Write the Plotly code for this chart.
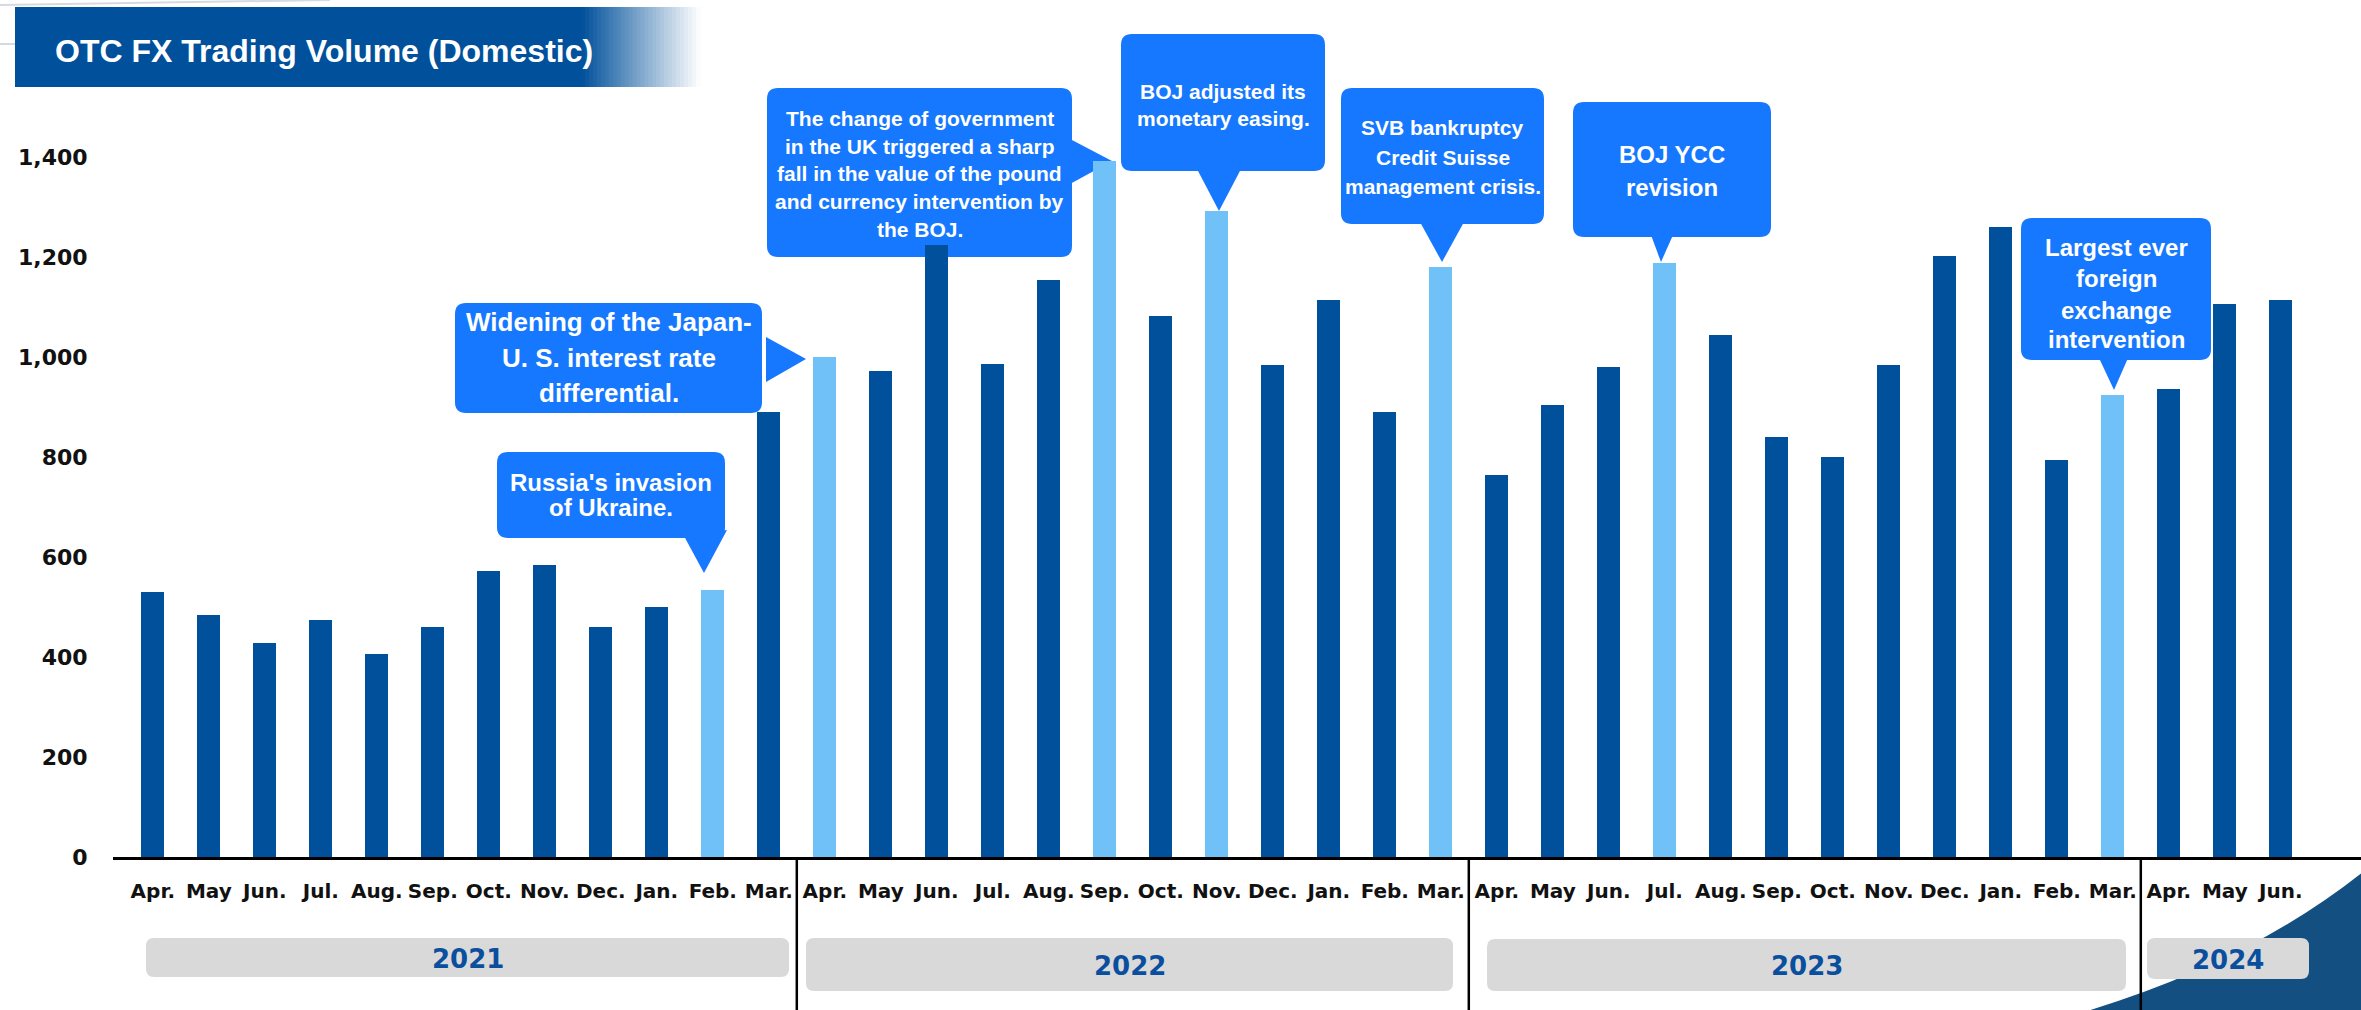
import plotly.graph_objects as go

# ---------------- data ----------------
months = ["Apr.", "May", "Jun.", "Jul.", "Aug.", "Sep.", "Oct.", "Nov.", "Dec.", "Jan.", "Feb.", "Mar.",
          "Apr.", "May", "Jun.", "Jul.", "Aug.", "Sep.", "Oct.", "Nov.", "Dec.", "Jan.", "Feb.", "Mar.",
          "Apr.", "May", "Jun.", "Jul.", "Aug.", "Sep.", "Oct.", "Nov.", "Dec.", "Jan.", "Feb.", "Mar.",
          "Apr.", "May", "Jun."]
volume = [530, 485, 428, 474, 406, 460, 573, 585, 460, 500, 535, 890,
          1000, 973, 1225, 987, 1155, 1393, 1083, 1292, 985, 1115, 890, 1180,
          765, 905, 980, 1189, 1045, 840, 800, 985, 1203, 1260, 795, 925,
          936, 1107, 1114]
highlighted = [10, 12, 17, 19, 23, 27, 35]
years = ["2021", "2022", "2023", "2024"]
year_breaks = [11.5, 23.5, 35.5]
y_ticks = [0, 200, 400, 600, 800, 1000, 1200, 1400]
title = "OTC FX Trading Volume (Domestic)"

DARK = "#00509B"
LIGHT = "#71C1F9"
CALLOUT = "#1677FF"

# ---------------- geometry helpers (pixel -> paper) ----------------
W, H = 2361, 1010
PL, PR, PT, PB = 113, 2361, 7, 857


def px(x):
    return (x - PL) / (PR - PL)


def py(y):
    return (PB - y) / (PB - PT)


def pt(x, y):
    return f"{px(x):.6f},{py(y):.6f}"


def rrect(x0, y0, x1, y1, r):
    return (f"M {pt(x0 + r, y0)} L {pt(x1 - r, y0)} Q {pt(x1, y0)} {pt(x1, y0 + r)} "
            f"L {pt(x1, y1 - r)} Q {pt(x1, y1)} {pt(x1 - r, y1)} "
            f"L {pt(x0 + r, y1)} Q {pt(x0, y1)} {pt(x0, y1 - r)} "
            f"L {pt(x0, y0 + r)} Q {pt(x0, y0)} {pt(x0 + r, y0)} Z")


def tri(a, b, c):
    return f"M {pt(*a)} L {pt(*b)} L {pt(*c)} Z"


colors = [LIGHT if i in highlighted else DARK for i in range(len(volume))]

fig = go.Figure()
fig.add_trace(go.Bar(
    x=list(range(len(volume))), y=volume, width=0.41,
    marker=dict(color=colors, line=dict(width=0)),
    hoverinfo="skip",
))

shapes = []
annotations = []

# ---- title banner ----
shapes.append(dict(type="rect", xref="paper", yref="paper", layer="below",
                   x0=px(15), x1=px(582), y0=py(87), y1=py(7),
                   fillcolor=DARK, line=dict(width=0)))
steps = 30
for k in range(steps):
    t = (k + 0.5) / steps
    r = int(0 + (255 - 0) * t)
    g = int(80 + (255 - 80) * t)
    b = int(155 + (255 - 155) * t)
    xa = 581 + k * (700 - 581) / steps
    xb = 581 + (k + 1) * (700 - 581) / steps + 0.6
    shapes.append(dict(type="rect", xref="paper", yref="paper", layer="below",
                       x0=px(xa), x1=px(xb), y0=py(87), y1=py(7),
                       fillcolor=f"rgb({r},{g},{b})", line=dict(width=0)))
# faint decorative swoosh
shapes.append(dict(type="path", xref="paper", yref="paper", layer="below",
                   path=f"M {pt(0, 5)} Q {pt(150, 2)} {pt(330, 0)}",
                   line=dict(color="#D5DAE2", width=2)))
shapes.append(dict(type="path", xref="paper", yref="paper", layer="below",
                   path=f"M {pt(0, 44)} L {pt(15, 44)}",
                   line=dict(color="#D5DAE2", width=2)))
annotations.append(dict(xref="paper", yref="paper", x=px(53), y=py(51), xanchor="left", yanchor="middle",
                        text=title, showarrow=False,
                        font=dict(family="Liberation Sans, Arial", size=32, color="white", weight="bold")))

# ---- bottom-right decorative shape ----
shapes.append(dict(type="path", xref="paper", yref="paper", layer="below",
                   path=f"M {pt(2084, 1012)} Q {pt(2250, 962)} {pt(2363, 872)} L {pt(2363, 1012)} Z",
                   fillcolor="#134F81", line=dict(width=0)))

# ---- year boxes ----
year_boxes = [(146, 938, 789, 977), (806, 938, 1453, 991), (1487, 939, 2126, 991), (2147, 938, 2309, 979)]
for yr, (x0, y0, x1, y1) in zip(years, year_boxes):
    shapes.append(dict(type="path", xref="paper", yref="paper", layer="below",
                       path=rrect(x0, y0, x1, y1, 8), fillcolor="#D9D9D9", line=dict(width=0)))
    annotations.append(dict(xref="paper", yref="paper", x=px((x0 + x1) / 2), y=py((y0 + y1) / 2 + 1),
                            xanchor="center", yanchor="middle", text=yr, showarrow=False,
                            font=dict(family="DejaVu Sans", size=26, color="#0A4F9E", weight="bold")))

# ---- year separators ----
for xb in year_breaks:
    shapes.append(dict(type="line", xref="x", yref="paper", x0=xb, x1=xb,
                       y0=py(857), y1=py(1010), line=dict(color="black", width=2.5)))

# ---- callouts ----
callouts = [
    dict(box=(497, 452, 725, 538), size=24, lines=["Russia's invasion", "of Ukraine."],
         ys=[482, 508], ptr=((684, 536), (727, 530), (704, 573))),
    dict(box=(455, 303, 762, 413), size=26,
         lines=["Widening of the Japan-", "U. S. interest rate", "differential."],
         ys=[322, 358, 393], ptr=((766, 337), (766, 382), (806, 359))),
    dict(box=(767, 88, 1072, 257), size=21,
         lines=["The change of government", "in the UK triggered a sharp", "fall in the value of the pound",
                "and currency intervention by", "the BOJ."],
         ys=[118, 146, 174, 202, 230], ptr=((1070, 139), (1070, 184), (1112, 161))),
    dict(box=(1121, 34, 1325, 171), size=21, lines=["BOJ adjusted its", "monetary easing."],
         ys=[91, 118], ptr=((1197, 169), (1241, 169), (1219, 211))),
    dict(box=(1341, 88, 1544, 224), size=21,
         lines=["SVB bankruptcy", "Credit Suisse", "management crisis."],
         ys=[128, 157, 186], ptr=((1420, 222), (1464, 222), (1442, 262))),
    dict(box=(1573, 102, 1771, 237), size=24, lines=["BOJ YCC", "revision"],
         ys=[155, 187], ptr=((1651, 235), (1673, 235), (1661, 262))),
    dict(box=(2021, 218, 2211, 360), size=24,
         lines=["Largest ever", "foreign", "exchange", "intervention"],
         ys=[247, 278, 310, 340], ptr=((2099, 358), (2128, 358), (2114, 390))),
]
for c in callouts:
    x0, y0, x1, y1 = c["box"]
    shapes.append(dict(type="path", xref="paper", yref="paper", layer="below",
                       path=rrect(x0, y0, x1, y1, 11), fillcolor=CALLOUT, line=dict(width=0)))
    shapes.append(dict(type="path", xref="paper", yref="paper", layer="below",
                       path=tri(*c["ptr"]), fillcolor=CALLOUT, line=dict(width=0)))
    for line, yy in zip(c["lines"], c["ys"]):
        annotations.append(dict(xref="paper", yref="paper", x=px((x0 + x1) / 2), y=py(yy),
                                xanchor="center", yanchor="middle", text=line, showarrow=False,
                                font=dict(family="Liberation Sans, Arial", size=c["size"],
                                          color="white", weight="bold")))

fig.update_layout(
    template="none",
    width=W, height=H,
    margin=dict(l=PL, r=W - PR, t=PT, b=H - PB, pad=0),
    paper_bgcolor="white", plot_bgcolor="rgba(0,0,0,0)",
    showlegend=False,
    bargap=0,
    shapes=shapes,
    annotations=annotations,
    xaxis=dict(
        range=[(PL - 152.8) / 56.0, (PR - 152.8) / 56.0],
        tickmode="array", tickvals=list(range(len(months))), ticktext=months,
        showline=True, linecolor="black", linewidth=3,
        showgrid=False, zeroline=False, automargin=False,
        ticks="outside", ticklen=14, tickcolor="rgba(0,0,0,0)",
        tickfont=dict(family="DejaVu Sans", size=20, color="#111111", weight="bold"),
    ),
    yaxis=dict(
        range=[0, 1700],
        tickmode="array", tickvals=y_ticks, tickformat=",d",
        showline=False, showgrid=False, zeroline=False, automargin=False,
        ticks="outside", ticklen=20, tickcolor="rgba(0,0,0,0)",
        tickfont=dict(family="DejaVu Sans", size=22, color="#111111", weight="bold"),
    ),
)

fig.write_html("out.html")
